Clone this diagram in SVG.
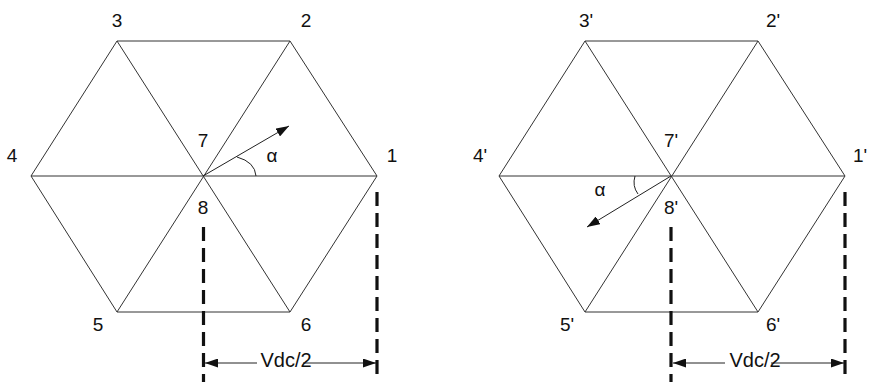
<svg xmlns="http://www.w3.org/2000/svg" width="870" height="382" viewBox="0 0 870 382">
<style>
.hex{fill:none;stroke:#333;stroke-width:1}
.lbl{font-family:"Liberation Sans",Arial,sans-serif;font-size:19px;fill:#111;text-anchor:middle}
.dim{font-family:"Liberation Sans",Arial,sans-serif;font-size:20px;fill:#111;text-anchor:middle}
.dash{stroke:#111;stroke-width:3.2;stroke-dasharray:14 7;fill:none}
.thin{stroke:#222;stroke-width:1;fill:none}
</style>
<defs>
<marker id="ah" viewBox="0 0 13 9" refX="13" refY="4.5" markerWidth="13" markerHeight="9" markerUnits="userSpaceOnUse" orient="auto">
<path d="M0,0 L13,4.5 L0,9 Z" fill="#111"/>
</marker>
</defs>
<rect width="870" height="382" fill="#fff"/>
<g id="hexagon-left">
<polygon class="hex" points="377,176 290,41 117,41 31,176 117,312 290,312"/>
<line class="hex" x1="31" y1="176" x2="377" y2="176"/>
<line class="hex" x1="117" y1="41" x2="290" y2="312"/>
<line class="hex" x1="290" y1="41" x2="117" y2="312"/>
<text class="lbl" x="392" y="162">1</text>
<text class="lbl" x="306" y="27">2</text>
<text class="lbl" x="117" y="27">3</text>
<text class="lbl" x="12" y="162">4</text>
<text class="lbl" x="98" y="331">5</text>
<text class="lbl" x="306" y="331">6</text>
<text class="lbl" x="203" y="147">7</text>
<text class="lbl" x="203" y="214">8</text>
<text class="lbl" x="272" y="162">α</text>
</g>
<g id="hexagon-right">
<polygon class="hex" points="845,176 758,41 585,41 499,176 585,312 758,312"/>
<line class="hex" x1="499" y1="176" x2="845" y2="176"/>
<line class="hex" x1="585" y1="41" x2="758" y2="312"/>
<line class="hex" x1="758" y1="41" x2="585" y2="312"/>
<text class="lbl" x="860" y="162">1'</text>
<text class="lbl" x="773" y="27">2'</text>
<text class="lbl" x="586" y="27">3'</text>
<text class="lbl" x="480" y="162">4'</text>
<text class="lbl" x="567" y="331">5'</text>
<text class="lbl" x="773" y="331">6'</text>
<text class="lbl" x="671" y="147">7'</text>
<text class="lbl" x="671" y="214">8'</text>
<text class="lbl" x="600" y="196">α</text>
</g>
<g id="connectors">
<line class="thin" x1="203" y1="176" x2="289" y2="126" marker-end="url(#ah)"/>
<path class="thin" d="M256,176 Q255,162 237,157"/>
<line class="thin" x1="671" y1="176" x2="587" y2="227" marker-end="url(#ah)"/>
<path class="thin" d="M635,176 Q632,186 638,194"/>
<line class="dash" x1="203.5" y1="227" x2="203.5" y2="382"/>
<line class="dash" x1="377" y1="192" x2="377" y2="378"/>
<line class="dash" x1="671" y1="227" x2="671" y2="382"/>
<line class="dash" x1="845" y1="192" x2="845" y2="378"/>
<line class="thin" x1="257" y1="363" x2="205" y2="363" marker-end="url(#ah)"/>
<line class="thin" x1="303" y1="363" x2="376" y2="363" marker-end="url(#ah)"/>
<line class="thin" x1="725" y1="363" x2="673" y2="363" marker-end="url(#ah)"/>
<line class="thin" x1="771" y1="363" x2="844" y2="363" marker-end="url(#ah)"/>
<text class="dim" x="286" y="367">Vdc/2</text>
<text class="dim" x="755" y="367">Vdc/2</text>
</g>
</svg>
